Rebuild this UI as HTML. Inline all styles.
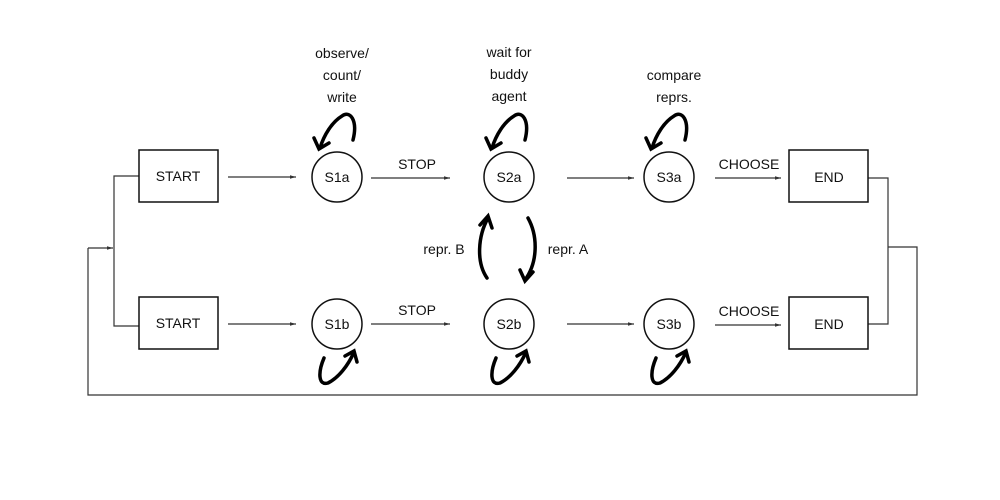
<!DOCTYPE html>
<html><head><style>body{margin:0;background:#fff}svg{display:block}text{font-family:"Liberation Sans",sans-serif;font-size:14px;fill:#111}</style></head>
<body>
<svg width="1000" height="500" viewBox="0 0 1000 500">
<defs>
<marker id="a" markerWidth="6" markerHeight="6" refX="5" refY="3" orient="auto"><path d="M0,1.5 L5,3 L0,4.5z" fill="#333"/></marker>
<marker id="b" markerWidth="5" markerHeight="5" refX="2.5" refY="2.5" orient="auto" markerUnits="userSpaceOnUse"></marker>
</defs>
<g fill="none" stroke="#333" stroke-width="1.2">
<polyline points="139,176 114,176 114,326 139,326"/>
<polyline points="88,248 88,395 917,395 917,247 888,247"/>
<line x1="88" y1="248" x2="113" y2="248" marker-end="url(#a)"/>
<polyline points="868,178 888,178 888,324 868,324"/>
<line x1="228" y1="177" x2="296" y2="177" marker-end="url(#a)"/>
<line x1="228" y1="324" x2="296" y2="324" marker-end="url(#a)"/>
<line x1="371" y1="178" x2="450" y2="178" marker-end="url(#a)"/>
<line x1="371" y1="324" x2="450" y2="324" marker-end="url(#a)"/>
<line x1="567" y1="178" x2="634" y2="178" marker-end="url(#a)"/>
<line x1="567" y1="324" x2="634" y2="324" marker-end="url(#a)"/>
<line x1="715" y1="178" x2="781" y2="178" marker-end="url(#a)"/>
<line x1="715" y1="325" x2="781" y2="325" marker-end="url(#a)"/>
</g>
<g fill="#fff" stroke="#111" stroke-width="1.5">
<rect x="139" y="150" width="79" height="52"/>
<rect x="139" y="297" width="79" height="52"/>
<rect x="789" y="150" width="79" height="52"/>
<rect x="789" y="297" width="79" height="52"/>
<circle cx="337" cy="177" r="25"/><circle cx="337" cy="324" r="25"/>
<circle cx="509" cy="177" r="25"/><circle cx="509" cy="324" r="25"/>
<circle cx="669" cy="177" r="25"/><circle cx="669" cy="324" r="25"/>
</g>
<g fill="none" stroke="#000" stroke-width="3.5" stroke-linecap="round">
<!-- top loops -->
<g id="t"><path d="M353,140 C358,120 350,110 342,116 C332,122 324,135 320,148"/><path d="M314,138 L319,149 L329,143"/></g>
<use href="#t" x="172"/><use href="#t" x="332"/>
<!-- bottom loops -->
<g id="u"><path d="M324,358 C318,372 318,386 328,383 C338,378 348,366 354,352"/><path d="M345,356 L354,351 L357,362"/></g>
<use href="#u" x="172"/><use href="#u" x="332"/>
<!-- repr arrows -->
<path d="M487,278 C476,262 478,236 488,218"/><path d="M480,225 L488,216 L492,228"/>
<path d="M528,218 C538,236 538,262 525,280"/><path d="M520,270 L525,281 L533,272"/>
</g>
<text x="178" y="181" text-anchor="middle">START</text>
<text x="178" y="328" text-anchor="middle">START</text>
<text x="829" y="182" text-anchor="middle">END</text>
<text x="829" y="329" text-anchor="middle">END</text>
<text x="337" y="182" text-anchor="middle">S1a</text>
<text x="337" y="329" text-anchor="middle">S1b</text>
<text x="509" y="182" text-anchor="middle">S2a</text>
<text x="509" y="329" text-anchor="middle">S2b</text>
<text x="669" y="182" text-anchor="middle">S3a</text>
<text x="669" y="329" text-anchor="middle">S3b</text>
<text x="417" y="169" text-anchor="middle">STOP</text>
<text x="417" y="315" text-anchor="middle">STOP</text>
<text x="749" y="169" text-anchor="middle">CHOOSE</text>
<text x="749" y="316" text-anchor="middle">CHOOSE</text>
<text x="444" y="254" text-anchor="middle">repr. B</text>
<text x="568" y="254" text-anchor="middle">repr. A</text>
<text x="342" y="58" text-anchor="middle">observe/</text>
<text x="342" y="80" text-anchor="middle">count/</text>
<text x="342" y="102" text-anchor="middle">write</text>
<text x="509" y="57" text-anchor="middle">wait for</text>
<text x="509" y="79" text-anchor="middle">buddy</text>
<text x="509" y="101" text-anchor="middle">agent</text>
<text x="674" y="80" text-anchor="middle">compare</text>
<text x="674" y="102" text-anchor="middle">reprs.</text>
</svg>
</body></html>
